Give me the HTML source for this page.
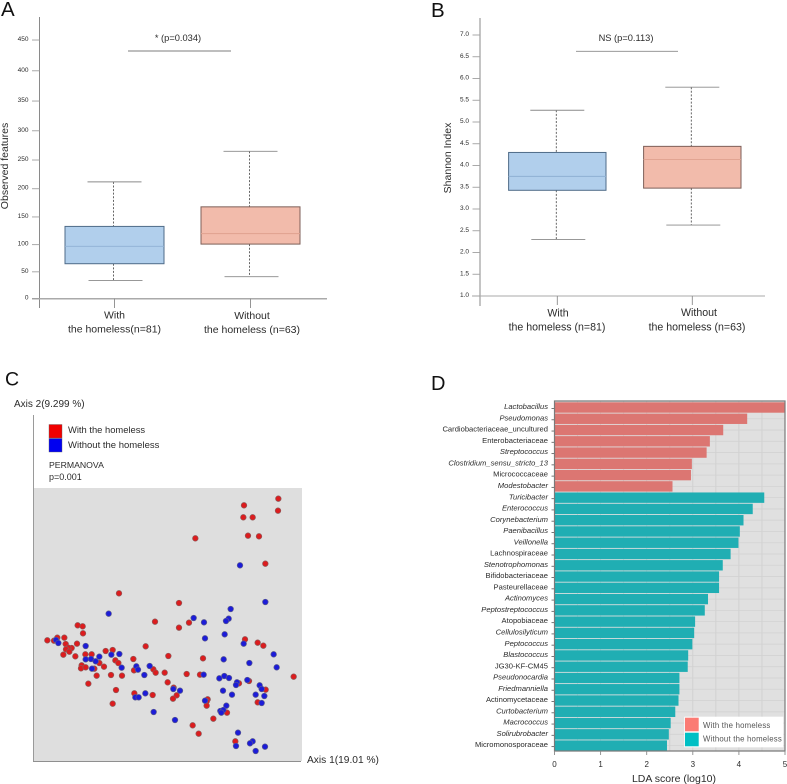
<!DOCTYPE html>
<html lang="en">
<head>
<meta charset="utf-8">
<title>Diversity and LDA figure</title>
<style>
html,body{margin:0;padding:0;background:#fff;width:787px;height:784px;overflow:hidden}
svg{display:block;font-family:"Liberation Sans",sans-serif;fill:#333;filter:blur(.25px)}
text{fill:#2b2b2b}
</style>
</head>
<body>
<svg id="fig" xmlns="http://www.w3.org/2000/svg" width="787" height="784" viewBox="0 0 787 784">
  <text x="1" y="16" font-size="20.5" style="fill:#111">A</text>
  <text x="431" y="17" font-size="20.5" style="fill:#111">B</text>
  <text x="5" y="385.5" font-size="19.5" style="fill:#111">C</text>
  <text x="431" y="390" font-size="20" style="fill:#111">D</text>

  <g id="panelA">
    <text transform="translate(8,166) rotate(-90)" text-anchor="middle" font-size="10.5">Observed features</text>
    <text x="178" y="41" text-anchor="middle" font-size="9.3">* (p=0.034)</text>
    <line x1="128" x2="231" y1="51" y2="51" stroke="#a8a8a8" stroke-width="1.4"/>
    <text x="114.5" y="318.5" text-anchor="middle" font-size="10.5">With</text>
    <text x="114.5" y="332.5" text-anchor="middle" font-size="10.5">the homeless(n=81)</text>
    <text x="252" y="319" text-anchor="middle" font-size="10.5">Without</text>
    <text x="252" y="333" text-anchor="middle" font-size="10.5">the homeless (n=63)</text>
  </g>

  <g id="panelB">
    <text transform="translate(451,158) rotate(-90)" text-anchor="middle" font-size="10.5">Shannon Index</text>
    <text x="626" y="41" text-anchor="middle" font-size="9.3">NS (p=0.113)</text>
    <line x1="576" x2="678" y1="51.3" y2="51.3" stroke="#8a8a8a" stroke-width=".8"/>
    <text x="558" y="316.5" text-anchor="middle" font-size="10.6">With</text>
    <text x="557" y="330.5" text-anchor="middle" font-size="10.6">the homeless (n=81)</text>
    <text x="699" y="316" text-anchor="middle" font-size="10.6">Without</text>
    <text x="697" y="330.5" text-anchor="middle" font-size="10.6">the homeless (n=63)</text>
  </g>

  <g id="panelC">
    <text x="14" y="407" font-size="10">Axis 2(9.299 %)</text>
    <rect x="34" y="488" width="268" height="273" fill="#dedede"/>
    <line x1="33.5" x2="33.5" y1="415" y2="762" stroke="#9a9a9a" stroke-width="1"/>
    <line x1="33" x2="301" y1="761.5" y2="761.5" stroke="#8f8f8f" stroke-width="1"/>
    <text x="307" y="763" font-size="10.2">Axis 1(19.01 %)</text>
    <rect x="49" y="424.5" width="13" height="13.5" fill="#f00000" stroke="#666" stroke-width=".4"/>
    <rect x="49" y="438.5" width="13" height="13.5" fill="#0000f0" stroke="#666" stroke-width=".4"/>
    <text x="68" y="433" font-size="9.4">With the homeless</text>
    <text x="68" y="448" font-size="9.5">Without the homeless</text>
    <text x="49" y="468" font-size="8.7">PERMANOVA</text>
    <text x="49" y="480" font-size="9">p=0.001</text>
  </g>

  <g id="panelD">
    <rect x="554.5" y="401" width="230.5" height="350" fill="#e0e0e0"/>
    <g id="ldaGrid"></g>
    <g id="ldaBars"></g>
    <g id="ldaLabels"></g>
    <path d="M554.5 401H785V751H554.5Z" fill="none" stroke="#7a7a7a" stroke-width="1.2"/>
    <g id="ldaTicks"></g>
    <text x="674" y="782" text-anchor="middle" font-size="10.5">LDA score (log10)</text>
    <rect x="684.3" y="716.7" width="99" height="30.6" fill="#fff"/>
    <rect x="685" y="717.7" width="13.7" height="13.6" fill="#fb7b74"/>
    <rect x="685" y="732.7" width="13.7" height="13.6" fill="#00bfc4"/>
    <text x="703" y="728" font-size="7.8" letter-spacing=".2" style="fill:#555">With the homeless</text>
    <text x="703" y="741.5" font-size="7.8" letter-spacing=".2" style="fill:#555">Without the homeless</text>
  </g>
</svg>
<script>
// Panel A data: observed features
const ticksA = [0, 50, 100, 150, 200, 250, 300, 350, 400, 450];
const groupsA = ["With the homeless", "Without the homeless"];
const q1A = [65, 101];
const medianA = [97, 120];
const q3A = [133, 168];
const whiskerLowA = [34, 41];
const whiskerHighA = [212, 265];

// Panel B data: Shannon index
const ticksB = [1.0, 1.5, 2.0, 2.5, 3.0, 3.5, 4.0, 4.5, 5.0, 5.5, 6.0, 6.5, 7.0];
const groupsB = ["With the homeless", "Without the homeless"];
const q1B = [3.43, 3.48];
const medianB = [3.75, 4.14];
const q3B = [4.30, 4.44];
const whiskerLowB = [2.30, 2.63];
const whiskerHighB = [5.27, 5.80];

// Panel C data: ordination scores (rescaled units)
const withAxis1 = [267,745,642,744,640,668,654,687,496,706,447,477,447,143,158,159,375,52,72,82,103,107,141,125,115,108,118,100,136,166,185,227,248,347,415,310,256,265,208,222,155,153,167,193,200,243,276,312,370,377,404,175,258,313,368,248,413,431,440,429,645,683,700,519,470,510,791,627,657,707,683,533,530,530,591,550,488,506,616];
const withAxis2 = [503,787,767,751,731,731,676,674,668,592,474,415,400,407,404,383,418,362,361,370,370,351,352,339,340,335,328,319,314,320,320,330,333,344,315,306,302,294,294,283,287,278,281,277,256,258,256,272,275,265,265,232,213,203,198,172,236,220,197,187,365,355,346,308,261,259,253,233,240,214,176,185,179,166,145,127,107,82,59];
const withoutAxis1 = [236,630,706,602,491,522,596,588,78,85,167,268,244,208,167,183,197,186,275,319,324,359,343,346,316,326,371,435,430,450,525,584,641,731,740,581,658,521,568,583,597,621,618,652,689,695,579,606,677,703,695,525,589,571,580,574,624,668,660,618,705,677];
const withoutAxis2 = [442,587,477,456,429,416,427,420,363,354,345,321,319,313,305,306,299,277,280,284,274,285,258,203,191,191,147,123,216,211,368,380,352,320,281,305,294,259,248,255,249,236,228,243,227,216,211,199,199,195,174,181,166,150,153,145,85,59,53,45,43,30];

// Panel D data: LDA scores
const ldaCategories = ["Lactobacillus","Pseudomonas","Cardiobacteriaceae_uncultured","Enterobacteriaceae","Streptococcus","Clostridium_sensu_stricto_13","Micrococcaceae","Modestobacter","Turicibacter","Enterococcus","Corynebacterium","Paenibacillus","Veillonella","Lachnospiraceae","Stenotrophomonas","Bifidobacteriaceae","Pasteurellaceae","Actinomyces","Peptostreptococcus","Atopobiaceae","Cellulosilyticum","Peptococcus","Blastococcus","JG30-KF-CM45","Pseudonocardia","Friedmanniella","Actinomycetaceae","Curtobacterium","Macrococcus","Solirubrobacter","Micromonosporaceae"];
const ldaScores = [5.0,4.18,3.66,3.37,3.30,2.98,2.96,2.56,4.55,4.30,4.10,4.02,3.99,3.82,3.65,3.57,3.57,3.33,3.26,3.05,3.03,2.99,2.90,2.89,2.71,2.71,2.69,2.62,2.52,2.48,2.44];
const ldaItalic = [1,1,0,0,1,1,0,1,1,1,1,1,1,0,1,0,0,1,1,0,1,1,1,0,1,1,0,1,1,1,0];
const ldaEnrichedWith = [1,1,1,1,1,1,1,1,0,0,0,0,0,0,0,0,0,0,0,0,0,0,0,0,0,0,0,0,0,0,0];
const ldaTickValues = [0,1,2,3,4,5];
const ldaGridValues = [0,0.5,1,1.5,2,2.5,3,3.5,4,4.5,5];

const NS = "http://www.w3.org/2000/svg";
function make(parent, tag, attrs, txt) {
  const n = document.createElementNS(NS, tag);
  for (const k in attrs) n.setAttribute(k, attrs[k]);
  if (txt !== undefined) n.textContent = txt;
  parent.appendChild(n);
  return n;
}

// Axis functions
function yA(v) { return 298.5 - (0.5284 * v + 0.0001022 * v * v); }
function xA(i) { return 114.5 + 136 * i; }
function yB(v) { return 296 - (v - 1) * 43.5; }
function xB(i) { return 557.3 + 135 * i; }
function xC(v) { return 30 + v / 3; }
function yC(v) { return 761 - v / 3; }
function xD(v) { return 554.5 + 46.1 * v; }
function yD(i) { return 407.5 + 11.27 * i; }

function drawAxes(g, ticks, yFn, fmt, axisX, yTop, yBottom, base, xLeft, xRight, xFn, n, tickBottom, baseWidth) {
  let el = make(g, "line", {x1: axisX, x2: axisX, y1: yTop, y2: yBottom, stroke: "#8a8a8a", "stroke-width": 1});
  
  
  el = make(g, "line", {x1: xLeft, x2: xRight, y1: base, y2: base, stroke: "#aaa", "stroke-width": baseWidth});
  
  
  ticks.forEach(function (t) {
    const mark = make(g, "line", {x1: axisX - 7.5, x2: axisX, y1: yFn(t), y2: yFn(t), stroke: "#a0a0a0", "stroke-width": .9});
    
    
    const label = make(g, "text", {x: axisX - 11, y: yFn(t) + 1, "text-anchor": "end", "font-size": 6.5}, fmt(t));
    
    
  });
  for (let i = 0; i < n; i++) {
    const mark = make(g, "line", {x1: xFn(i), x2: xFn(i), y1: base, y2: tickBottom, stroke: "#8a8a8a", "stroke-width": .9});
    
    
  }
}

function drawBoxes(g, groups, q1, med, q3, lo, hi, yFn, xFn, halfW, capW, fills, strokes, medians) {
  groups.forEach(function (name, i) {
    const cx = xFn(i);
    const upper = make(g, "line", {x1: cx - 1, x2: cx - 1, y1: yFn(hi[i]), y2: yFn(q3[i]), stroke: "#555", "stroke-width": .9, "stroke-dasharray": "2 1.6"});
    
    
    const lower = make(g, "line", {x1: cx - 1, x2: cx - 1, y1: yFn(q1[i]), y2: yFn(lo[i]), stroke: "#555", "stroke-width": .9, "stroke-dasharray": "2 1.6"});
    
    
    const capHi = make(g, "line", {x1: cx - capW, x2: cx + capW, y1: yFn(hi[i]), y2: yFn(hi[i]), stroke: "#8a8a8a", "stroke-width": .9});
    
    
    const capLo = make(g, "line", {x1: cx - capW + 1, x2: cx + capW + 1, y1: yFn(lo[i]), y2: yFn(lo[i]), stroke: "#8a8a8a", "stroke-width": .9});
    
    
    const box = make(g, "rect", {x: cx - halfW, width: 2 * halfW, y: yFn(q3[i]), height: yFn(q1[i]) - yFn(q3[i]), fill: fills[i], stroke: strokes[i], "stroke-width": 1});
    
    
    const m = make(g, "line", {x1: cx - halfW, x2: cx + halfW, y1: yFn(med[i]), y2: yFn(med[i]), stroke: medians[i], "stroke-width": .9});
    
    
  });
}

const gA = document.getElementById("panelA");
drawAxes(gA, ticksA, yA, function (t) { return String(t); }, 39.5, 17, 308, 298.7, 32, 327, xA, groupsA.length, 308, 1.5);
drawBoxes(gA, groupsA, q1A, medianA, q3A, whiskerLowA, whiskerHighA, yA, xA, 49.5, 27, ["#b1cfec", "#f2bbab"], ["#4f6b88", "#7d5f58"], ["#8fb1d3", "#dfa08f"]);

const gB = document.getElementById("panelB");
drawAxes(gB, ticksB, yB, function (t) { return t.toFixed(1); }, 480, 18, 306, 296, 472, 765, xB, groupsB.length, 305, 1);
drawBoxes(gB, groupsB, q1B, medianB, q3B, whiskerLowB, whiskerHighB, yB, xB, 48.7, 27, ["#b1cfec", "#f2bbab"], ["#4f6b88", "#7d5f58"], ["#8fb1d3", "#dfa08f"]);

const gC = document.getElementById("panelC");
withAxis1.forEach(function (v, i) {
  const dot = make(gC, "circle", {cx: xC(v), cy: yC(withAxis2[i]), r: 2.8, fill: "#dc1c1e", stroke: "#8f5a5a", "stroke-width": .7});
  
  
});
withoutAxis1.forEach(function (v, i) {
  const dot = make(gC, "circle", {cx: xC(v), cy: yC(withoutAxis2[i]), r: 2.8, fill: "#1c1cd8", stroke: "#5a5a8f", "stroke-width": .7});
  
  
});

const grid = document.getElementById("ldaGrid");
ldaGridValues.forEach(function (v) {
  const gl = make(grid, "line", {x1: xD(v), x2: xD(v), y1: 401, y2: 751, stroke: "#cfcfcf", "stroke-width": .9});
  
  
});
const bars = document.getElementById("ldaBars");
const labels = document.getElementById("ldaLabels");
ldaCategories.forEach(function (name, i) {
  const cy = yD(i);
  const hl = make(grid, "line", {x1: 554.5, x2: 785, y1: cy, y2: cy, stroke: "#d2d2d2", "stroke-width": .8});
  
  
  const bar = make(bars, "rect", {x: xD(0), y: cy - 5.2, width: xD(ldaScores[i]) - xD(0), height: 10.4, fill: ldaEnrichedWith[i] ? "#dc7672" : "#20aeb3"});
  
  
  const lab = make(labels, "text", {x: 548, y: cy + 1.6, "text-anchor": "end", "font-size": 7.6, "font-style": ldaItalic[i] ? "italic" : "normal"}, name);
  
  
  const tk = make(labels, "line", {x1: 551.5, x2: 554.5, y1: cy + 1, y2: cy + 1, stroke: "#666", "stroke-width": .9});
  
  
});
const ticksD = document.getElementById("ldaTicks");
ldaTickValues.forEach(function (v) {
  const tk = make(ticksD, "line", {x1: xD(v), x2: xD(v), y1: 751, y2: 755, stroke: "#8a8a8a", "stroke-width": .9});
  
  
  const lab = make(ticksD, "text", {x: xD(v), y: 767, "text-anchor": "middle", "font-size": 8}, String(v));
  
  
});
</script>
</body>
</html>
